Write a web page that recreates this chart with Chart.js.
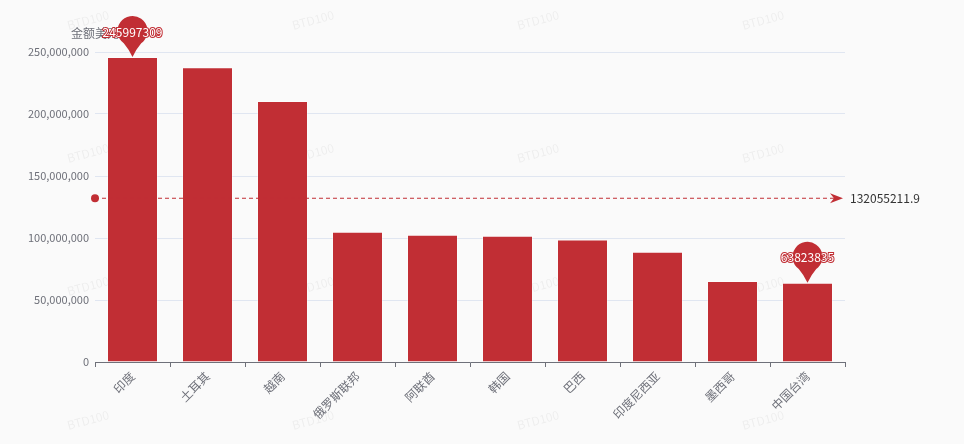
<!DOCTYPE html>
<html>
<head>
<meta charset="utf-8">
<script src="https://cdn.jsdelivr.net/npm/chart.js@4/dist/chart.umd.min.js"></script>
<style>
  body { margin: 0; background: #fafafa; }
</style>
</head>
<body>
<canvas id="chart" width="964" height="444"></canvas>
<script>
let countries = ["印度", "土耳其", "越南", "俄罗斯联邦", "阿联酋", "韩国", "巴西", "印度尼西亚", "墨西哥", "中国台湾"];
let amounts = [245997309, 237800000, 210400000, 105000000, 102600000, 101900000, 98800000, 89000000, 65230975, 63823835];
let yTicks = [0, 50000000, 100000000, 150000000, 200000000, 250000000];
let axisName = "金额美元";
let watermark = "BTD100";

let red = "#c12e34";
let grey = "#6e7079";
let font = "'Noto Sans CJK SC', 'Noto Sans', sans-serif";

let avg = amounts.reduce((a, b) => a + b, 0) / amounts.length;
let maxIdx = amounts.indexOf(Math.max(...amounts));
let minIdx = amounts.indexOf(Math.min(...amounts));

function drawPin(ctx, x, tip, text) {
  let r = 15;
  let cy = tip - 26;
  let a = 0.62;
  ctx.save();
  ctx.fillStyle = red;
  ctx.beginPath();
  ctx.arc(x, cy, r, Math.PI / 2 + a, Math.PI / 2 - a);
  ctx.quadraticCurveTo(x + r * 0.25, cy + r * 1.2, x, tip);
  ctx.quadraticCurveTo(x - r * 0.25, cy + r * 1.2, x - r * Math.sin(a), cy + r * Math.cos(a));
  ctx.closePath();
  ctx.fill();
  ctx.font = "12px " + font;
  ctx.textAlign = "center";
  ctx.textBaseline = "middle";
  ctx.lineWidth = 2;
  ctx.strokeStyle = red;
  ctx.strokeText(text, x, cy + 1);
  ctx.fillStyle = "#fff";
  ctx.fillText(text, x, cy + 1);
  ctx.restore();
}

let extras = {
  id: "extras",
  beforeDraw(chart) {
    let ctx = chart.ctx;
    ctx.save();
    ctx.fillStyle = "#fafafa";
    ctx.fillRect(0, 0, chart.width, chart.height);
    ctx.font = "12px " + font;
    ctx.fillStyle = "rgba(0,0,0,0.05)";
    ctx.textAlign = "center";
    ctx.textBaseline = "middle";
    [20, 153, 286, 420].forEach((y) => {
      [88, 313, 538, 763].forEach((x) => {
        ctx.save();
        ctx.translate(x, y);
        ctx.rotate(-15 * Math.PI / 180);
        ctx.fillText(watermark, 0, 0);
        ctx.restore();
      });
    });
    ctx.restore();
  },
  afterDatasetsDraw(chart) {
    let ctx = chart.ctx;
    let xs = chart.scales.x;
    let ys = chart.scales.y;
    let area = chart.chartArea;

    // axis name
    ctx.save();
    ctx.font = "12px " + font;
    ctx.fillStyle = grey;
    ctx.textAlign = "center";
    ctx.textBaseline = "middle";
    ctx.fillText(axisName, area.left, 33);
    ctx.restore();

    // average line
    let y = ys.getPixelForValue(avg);
    ctx.save();
    ctx.strokeStyle = red;
    ctx.fillStyle = red;
    ctx.lineWidth = 1;
    ctx.setLineDash([4, 3]);
    ctx.beginPath();
    ctx.moveTo(area.left, y);
    ctx.lineTo(area.right - 8, y);
    ctx.stroke();
    ctx.setLineDash([]);
    ctx.beginPath();
    ctx.arc(area.left, y, 4, 0, Math.PI * 2);
    ctx.fill();
    ctx.beginPath();
    ctx.moveTo(area.right - 2, y);
    ctx.lineTo(area.right - 15, y - 5);
    ctx.lineTo(area.right - 11, y);
    ctx.lineTo(area.right - 15, y + 5);
    ctx.closePath();
    ctx.fill();
    ctx.font = "12px " + font;
    ctx.fillStyle = "#333";
    ctx.textAlign = "left";
    ctx.textBaseline = "middle";
    ctx.fillText(String(avg), area.right + 5, y);
    ctx.restore();

    // max / min pins
    [maxIdx, minIdx].forEach((i) => {
      drawPin(ctx, xs.getPixelForValue(i), ys.getPixelForValue(amounts[i]), String(amounts[i]));
    });
  },
};

new Chart(document.getElementById("chart"), {
  type: "bar",
  data: {
    labels: countries,
    datasets: [
      {
        label: axisName,
        data: amounts,
        backgroundColor: red,
        borderColor: "rgba(255,255,255,0.35)",
        borderWidth: 1,
        categoryPercentage: 1,
        barPercentage: 0.68,
      },
    ],
  },
  options: {
    responsive: false,
    animation: false,
    layout: { padding: { left: 0, right: 119, top: 52, bottom: 0 } },
    plugins: {
      legend: { display: false },
      tooltip: { enabled: false },
    },
    scales: {
      x: {
        offset: true,
        grid: { offset: true, drawOnChartArea: false, tickLength: 5, color: grey },
        border: { color: grey },
        ticks: {
          color: grey,
          font: { size: 12, family: font },
          minRotation: 45,
          maxRotation: 45,
          autoSkip: false,
          padding: 2,
        },
        afterFit(scale) { scale.height = 82; },
      },
      y: {
        min: 0,
        max: 250000000,
        afterBuildTicks(scale) { scale.ticks = yTicks.map((v) => ({ value: v })); },
        grid: { color: "#e0e6f1", drawTicks: false },
        border: { display: false },
        ticks: {
          color: grey,
          font: { size: 11, family: font },
          padding: 6,
          callback: (v) => v.toLocaleString("en-US"),
        },
        afterFit(scale) { scale.width = 95; },
      },
    },
  },
  plugins: [extras],
});
</script>
</body>
</html>
